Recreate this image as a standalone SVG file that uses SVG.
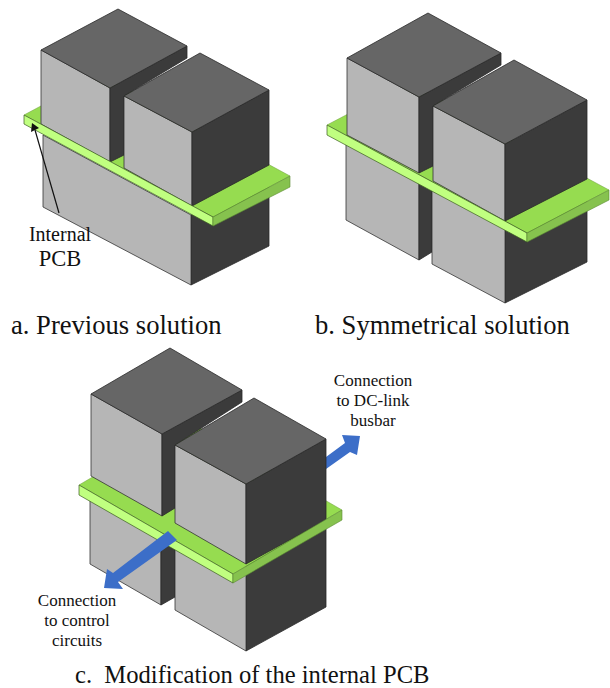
<svg xmlns="http://www.w3.org/2000/svg" width="610" height="688" viewBox="0 0 610 688">
<style>
polygon{stroke-linejoin:round}
.t{fill:#666;stroke:#2a2a2a;stroke-width:.8}
.l{fill:#b6b6b6;stroke:#333;stroke-width:.8}
.r{fill:#3b3b3b;stroke:#2a2a2a;stroke-width:.8}
.g{fill:#96dc50;stroke:#6f9f3c;stroke-width:.5}
.s{fill:#c0ff80;stroke:#3a5a20;stroke-width:.7}
.e{fill:#86c24e;stroke:#5d8c34;stroke-width:.6}
.b{fill:#3c6ec8}
text{font-family:"Liberation Serif","Times New Roman",serif;fill:#111;text-anchor:middle}
.cap{font-size:26.6px;text-anchor:start}
.lab{font-size:17px}
</style>
<g id="panel-a">
<polygon class="r" points="191,215 269,172 269,246 191,285"/>
<polygon class="l" points="43,135 191,215 191,285 43,207"/>
<polygon class="g" points="24,115 101,74 290,176 213,217"/>
<polygon class="l" points="41,50 110,88 110,162 41,124"/>
<polygon class="r" points="110,88 187,46 187,58 124,96 124,155 110,162"/>
<polygon class="t" points="118,9 187,46 110,88 41,50"/>
<polygon class="l" points="124,96 192,132 192,206 124,168"/>
<polygon class="r" points="192,132 269,90 269,165 192,206"/>
<polygon class="t" points="200,53 269,90 192,132 124,96"/>
<polygon class="s" points="24,115 213,217 213,226 24,124"/>
<polygon class="e" points="213,217 290,176 290,187 213,226"/>
<line x1="59" y1="213" x2="35" y2="130" stroke="#111" stroke-width="1.2"/>
<polygon points="32,123 31,132 39,128" fill="#111"/>
<text style="font-size:20px" x="60" y="241">Internal</text>
<text style="font-size:22.5px" x="60" y="266">PCB</text>
<text class="cap" x="11" y="334">a. Previous solution</text>
</g>
<g id="panel-b">
<polygon class="l" points="346,135 419,175 419,260 346,220"/>
<polygon class="r" points="419,175 432,168 432,252 419,260"/>
<polygon class="r" points="505,222 587,180 587,262 505,303"/>
<polygon class="l" points="432,182 505,222 505,303 432,264"/>
<polygon class="g" points="327,125 409,82 609,190 527,233"/>
<polygon class="l" points="347,58 419,97 419,173 347,135"/>
<polygon class="r" points="419,97 501,53 501,65 433,106 433,166 419,173"/>
<polygon class="t" points="428,13 501,53 419,97 347,58"/>
<polygon class="l" points="433,106 505,144 505,221 433,181"/>
<polygon class="r" points="505,144 587,100 587,179 505,221"/>
<polygon class="t" points="514,60 587,100 505,144 433,106"/>
<polygon class="s" points="327,125 527,233 527,242 327,135"/>
<polygon class="e" points="527,233 609,190 609,200 527,242"/>
<text class="cap" x="315" y="334">b. Symmetrical solution</text>
</g>
<g id="panel-c">
<polygon class="l" points="90,490 161,530 161,605 90,564"/>
<polygon class="r" points="161,530 175,522 175,597 161,605"/>
<polygon class="r" points="246,565 326,520 326,607 246,651"/>
<polygon class="l" points="175,525 246,565 246,651 175,610"/>
<polygon class="b" points="326,457 345,443 342,435 360,436 357,455 350,452 326,469"/>
<polygon class="g" points="79,485 188,421 342,510 233,574"/>
<polygon class="l" points="91,394 162,434 162,516 91,476"/>
<polygon class="r" points="162,434 242,390 242,402 175,445 175,508 162,516"/>
<polygon class="t" points="170,348 242,390 162,434 91,394"/>
<polygon class="l" points="175,445 246,484 246,564 175,523"/>
<polygon class="r" points="246,484 326,439 326,520 246,564"/>
<polygon class="t" points="254,398 326,439 246,484 175,445"/>
<polygon class="s" points="79,485 233,574 233,583 79,495"/>
<polygon class="e" points="233,574 342,510 342,520 233,583"/>
<polygon class="b" points="168,531 177,540 118,582 123,589 104,588 107,569 113,573"/>
<text class="lab" x="373" y="386">Connection</text>
<text class="lab" x="373" y="406">to DC-link</text>
<text class="lab" x="373" y="426">busbar</text>
<text class="lab" x="77" y="606">Connection</text>
<text class="lab" x="77" y="626">to control</text>
<text class="lab" x="77" y="646">circuits</text>
<text class="cap" style="font-size:24.6px" x="75" y="683" xml:space="preserve">c.  Modification of the internal PCB</text>
</g>
</svg>
